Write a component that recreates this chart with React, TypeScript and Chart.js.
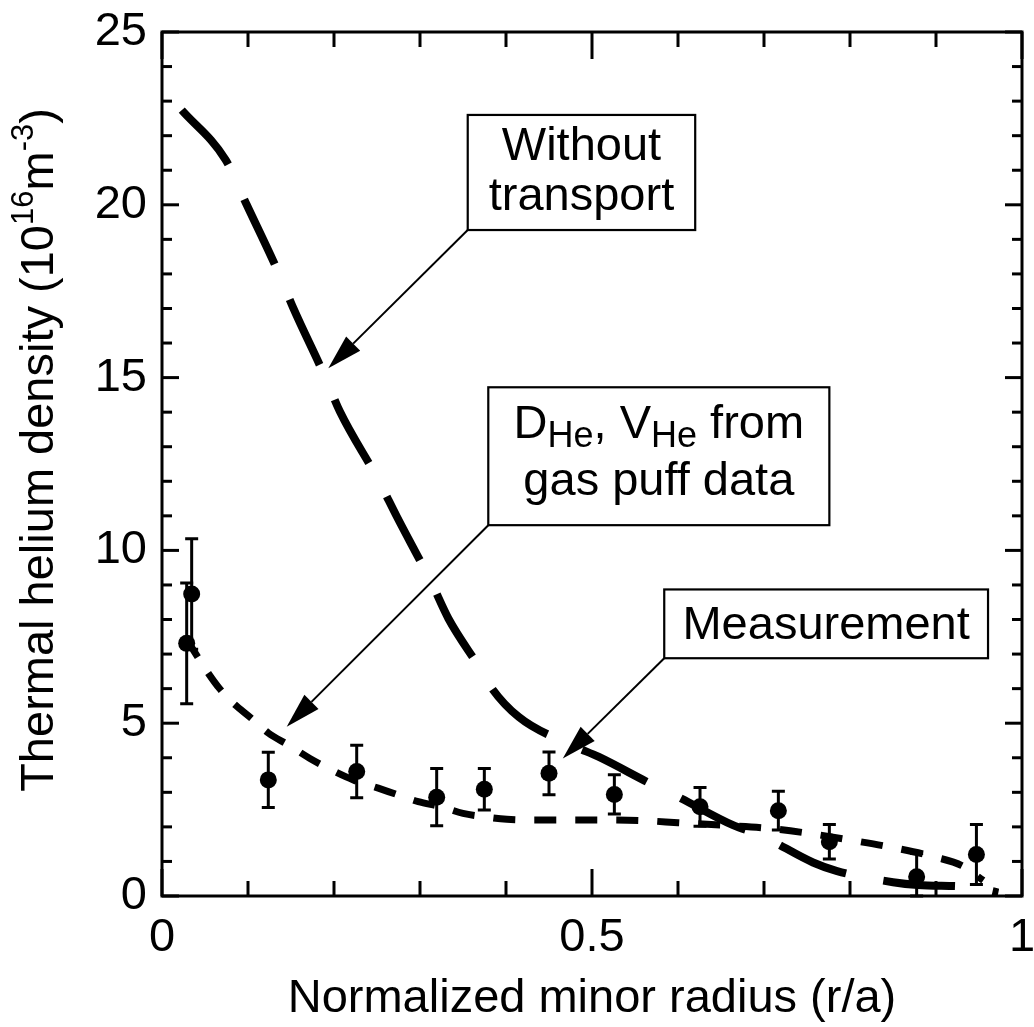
import React, { useEffect, useRef } from 'react';
import { Chart, registerables } from 'chart.js';

Chart.register(...registerables);

// ---------- data ----------
const measX = [0.0287, 0.0345, 0.1236, 0.2264, 0.3194, 0.3748, 0.45, 0.526, 0.6256, 0.7167, 0.776, 0.8775, 0.947];
const measY = [7.31, 8.74, 3.36, 3.6, 2.86, 3.09, 3.55, 2.94, 2.58, 2.47, 1.57, 0.56, 1.2];
const measErr = [1.75, 1.6, 0.8, 0.76, 0.83, 0.6, 0.62, 0.57, 0.56, 0.56, 0.5, 0.67, 0.87];

const noTransportX = [0.023, 0.074, 0.0985, 0.135, 0.1527, 0.1895, 0.207, 0.2515, 0.273, 0.3136, 0.333, 0.3756, 0.381, 0.4148, 0.478, 0.5074, 0.5713, 0.6, 0.664, 0.695, 0.757, 0.785, 0.85, 0.879, 0.943, 0.9725];
const noTransportY = [22.74, 21.3, 20.0, 18.06, 17.01, 15.03, 14.01, 12.04, 10.98, 9.05, 8.03, 6.35, 6.1, 5.18, 4.35, 4.03, 3.21, 2.87, 2.05, 1.77, 0.97, 0.72, 0.4, 0.32, 0.25, 0.1];

const gasPuffX = [0.028, 0.054, 0.067, 0.081, 0.104, 0.124, 0.147, 0.172, 0.197, 0.2225, 0.2515, 0.275, 0.298, 0.325, 0.35, 0.376, 0.401, 0.43, 0.5, 0.56, 0.6, 0.65, 0.7, 0.75, 0.8, 0.85, 0.9, 0.93, 0.955];
const gasPuffY = [7.45, 6.44, 6.0, 5.62, 5.14, 4.71, 4.37, 3.98, 3.65, 3.36, 3.12, 2.92, 2.73, 2.58, 2.39, 2.29, 2.22, 2.2, 2.2, 2.18, 2.12, 2.05, 1.97, 1.82, 1.62, 1.4, 1.12, 0.88, 0.45];

const xTickValues = [0, 0.5, 1];
const xTickLabels = ['0', '0.5', '1'];
const yTickStep = 5;
const xMinorStep = 0.1;
const yMinorStep = 1;

const xTitle = 'Normalized minor radius (r/a)';
const yTitleParts = [
  { t: 'Thermal helium density (10' },
  { t: '16', sup: true },
  { t: 'm' },
  { t: '-3', sup: true },
  { t: ')' },
];

// annotation boxes (data units) with arrow tips (data units)
const annotations = [
  {
    lines: [[{ t: 'Without' }], [{ t: 'transport' }]],
    baselines: [-12, 38],
    x0: 0.3555, x1: 0.62, yTop: 22.6, yBottom: 19.27,
    tipX: 0.1934, tipY: 15.27,
  },
  {
    lines: [
      [{ t: 'D' }, { t: 'He', sub: true }, { t: ', V' }, { t: 'He', sub: true }, { t: ' from' }],
      [{ t: 'gas puff data' }],
    ],
    baselines: [-18, 39],
    x0: 0.3794, x1: 0.776, yTop: 14.72, yBottom: 10.73,
    tipX: 0.145, tipY: 4.9,
  },
  {
    lines: [[{ t: 'Measurement' }]],
    baselines: [15],
    x0: 0.584, x1: 0.9605, yTop: 8.87, yBottom: 6.88,
    tipX: 0.466, tipY: 3.98,
  },
];

const FONT = "'Liberation Sans', Arial, Helvetica, sans-serif";
const FS = 47;

type Part = { t: string; sup?: boolean; sub?: boolean };

function partFont(p: Part) {
  if (p.sup) return `31px ${FONT}`;
  if (p.sub) return `36px ${FONT}`;
  return `${FS}px ${FONT}`;
}

function drawRich(ctx: CanvasRenderingContext2D, parts: Part[], cx: number, baseline: number) {
  let total = 0;
  const widths = parts.map((p) => {
    ctx.font = partFont(p);
    const w = ctx.measureText(p.t).width;
    total += w;
    return w;
  });
  let x = cx - total / 2;
  ctx.textAlign = 'left';
  ctx.textBaseline = 'alphabetic';
  parts.forEach((p, i) => {
    ctx.font = partFont(p);
    const dy = p.sup ? -20 : p.sub ? 9 : 0;
    ctx.fillText(p.t, x, baseline + dy);
    x += widths[i];
  });
}

const framePlugin = {
  id: 'frameTicks',
  afterDraw(chart: any) {
    const { ctx, chartArea: a, scales } = chart;
    const xs = scales.x;
    const ys = scales.y;
    ctx.save();
    ctx.strokeStyle = '#000';
    ctx.lineWidth = 3;
    ctx.lineCap = 'butt';
    const seg = (x1: number, y1: number, x2: number, y2: number) => {
      ctx.beginPath();
      ctx.moveTo(x1, y1);
      ctx.lineTo(x2, y2);
      ctx.stroke();
    };
    const nx = Math.round((xs.max - xs.min) / xMinorStep);
    for (let i = 0; i <= nx; i++) {
      const v = xs.min + i * xMinorStep;
      const px = xs.getPixelForValue(v);
      const major = i % 5 === 0;
      const len = major ? 27 : 15;
      seg(px, a.bottom, px, a.bottom - len);
      seg(px, a.top, px, a.top + len);
    }
    const ny = Math.round((ys.max - ys.min) / yMinorStep);
    for (let i = 0; i <= ny; i++) {
      const v = ys.min + i * yMinorStep;
      const py = ys.getPixelForValue(v);
      const major = i % yTickStep === 0;
      const len = major ? 17 : 10;
      seg(a.left, py, a.left + len, py);
      seg(a.right, py, a.right - len, py);
    }
    ctx.lineWidth = 3;
    ctx.strokeRect(a.left, a.top, a.right - a.left, a.bottom - a.top);
    ctx.restore();
  },
};

const errorBarPlugin = {
  id: 'errorBars',
  afterDatasetsDraw(chart: any) {
    const { ctx, scales } = chart;
    const xs = scales.x;
    const ys = scales.y;
    ctx.save();
    ctx.strokeStyle = '#000';
    ctx.lineWidth = 3;
    measX.forEach((xv, i) => {
      const px = xs.getPixelForValue(xv);
      const top = ys.getPixelForValue(measY[i] + measErr[i]);
      const bot = ys.getPixelForValue(Math.max(0, measY[i] - measErr[i]));
      ctx.beginPath();
      ctx.moveTo(px, top);
      ctx.lineTo(px, bot);
      ctx.moveTo(px - 6.5, top);
      ctx.lineTo(px + 6.5, top);
      ctx.moveTo(px - 6.5, bot);
      ctx.lineTo(px + 6.5, bot);
      ctx.stroke();
    });
    ctx.restore();
  },
};

const annotationPlugin = {
  id: 'annotBoxes',
  afterDraw(chart: any) {
    const { ctx, scales } = chart;
    const xs = scales.x;
    const ys = scales.y;
    ctx.save();
    annotations.forEach((an) => {
      const l = xs.getPixelForValue(an.x0);
      const r = xs.getPixelForValue(an.x1);
      const t = ys.getPixelForValue(an.yTop);
      const b = ys.getPixelForValue(an.yBottom);
      // arrow
      const tx = xs.getPixelForValue(an.tipX);
      const ty = ys.getPixelForValue(an.tipY);
      const sx = l;
      const sy = b;
      const dx = tx - sx;
      const dy = ty - sy;
      const len = Math.hypot(dx, dy);
      const ux = dx / len;
      const uy = dy / len;
      const headLen = 35;
      const headHalf = 10;
      const bx = tx - ux * headLen;
      const by = ty - uy * headLen;
      ctx.strokeStyle = '#000';
      ctx.lineWidth = 2;
      ctx.beginPath();
      ctx.moveTo(sx, sy);
      ctx.lineTo(bx, by);
      ctx.stroke();
      ctx.fillStyle = '#000';
      ctx.beginPath();
      ctx.moveTo(tx, ty);
      ctx.lineTo(bx - uy * headHalf, by + ux * headHalf);
      ctx.lineTo(bx + uy * headHalf, by - ux * headHalf);
      ctx.closePath();
      ctx.fill();
      // box
      ctx.fillStyle = '#fff';
      ctx.fillRect(l, t, r - l, b - t);
      ctx.lineWidth = 2.2;
      ctx.strokeRect(l, t, r - l, b - t);
      // text
      ctx.fillStyle = '#000';
      const cx = (l + r) / 2;
      const cy = (t + b) / 2;
      an.lines.forEach((parts, i) => {
        drawRich(ctx, parts as Part[], cx, cy + an.baselines[i]);
      });
    });
    ctx.restore();
  },
};

const yTitlePlugin = {
  id: 'yTitle',
  afterDraw(chart: any) {
    const { ctx, chartArea: a } = chart;
    ctx.save();
    ctx.fillStyle = '#000';
    ctx.translate(53, (a.top + a.bottom) / 2 - 14);
    ctx.rotate(-Math.PI / 2);
    drawRich(ctx, yTitleParts, 0, 0);
    ctx.restore();
  },
};

export default function App() {
  const ref = useRef<HTMLCanvasElement>(null);
  useEffect(() => {
    if (!ref.current) return;
    const chart = new Chart(ref.current, {
      type: 'scatter',
      data: {
        datasets: [
          {
            label: 'Measurement',
            data: measX.map((x, i) => ({ x, y: measY[i] })),
            pointRadius: 8.5,
            pointBackgroundColor: '#000',
            pointBorderWidth: 0,
            showLine: false,
            order: 0,
          },
          {
            label: 'Without transport',
            data: noTransportX.map((x, i) => ({ x, y: noTransportY[i] })),
            showLine: true,
            pointRadius: 0,
            borderColor: '#000',
            borderWidth: 8,
            borderDash: [72, 38],
            borderCapStyle: 'butt',
            cubicInterpolationMode: 'monotone',
            order: 2,
          },
          {
            label: 'DHe, VHe from gas puff data',
            data: gasPuffX.map((x, i) => ({ x, y: gasPuffY[i] })),
            showLine: true,
            pointRadius: 0,
            borderColor: '#000',
            borderWidth: 7,
            borderDash: [22, 19],
            borderCapStyle: 'butt',
            cubicInterpolationMode: 'monotone',
            order: 1,
          },
        ],
      },
      options: {
        animation: false,
        responsive: false,
        devicePixelRatio: 1,
        events: [],
        layout: { padding: { left: 0, top: 32, right: 12, bottom: 0 } },
        plugins: {
          legend: { display: false },
          tooltip: { enabled: false },
          title: { display: false },
        },
        scales: {
          x: {
            type: 'linear',
            position: 'bottom',
            min: 0,
            max: 1,
            grid: { display: false, drawTicks: false },
            border: { display: false },
            ticks: {
              stepSize: 0.5,
              autoSkip: false,
              maxRotation: 0,
              minRotation: 0,
              padding: 19,
              color: '#000',
              font: { family: FONT, size: FS, lineHeight: 1 },
              callback: (v: any) => {
                const i = xTickValues.findIndex((t) => Math.abs(t - Number(v)) < 1e-9);
                return i >= 0 ? xTickLabels[i] : '';
              },
            },
            title: {
              display: true,
              text: xTitle,
              color: '#000',
              font: { family: FONT, size: FS, lineHeight: 1.2 },
              padding: { top: 0, bottom: 0 },
            },
            afterFit: (s: any) => {
              s.height = 131;
              s.paddingLeft = 0;
              s.paddingRight = 0;
            },
          },
          y: {
            type: 'linear',
            min: 0,
            max: 25,
            grid: { display: false, drawTicks: false },
            border: { display: false },
            ticks: {
              stepSize: yTickStep,
              padding: 15,
              color: '#000',
              font: { family: FONT, size: FS, lineHeight: 1 },
            },
            title: { display: false },
            afterFit: (s: any) => {
              s.width = 162;
              s.paddingTop = 0;
              s.paddingBottom = 0;
            },
          },
        },
      } as any,
      plugins: [errorBarPlugin, framePlugin, annotationPlugin, yTitlePlugin],
    });
    return () => chart.destroy();
  }, []);
  return (
    <div style={{ position: 'fixed', left: 0, top: 0, width: 1034, height: 1027, background: '#fff' }}>
      <canvas ref={ref} width={1034} height={1027} style={{ display: 'block', width: 1034, height: 1027 }} />
    </div>
  );
}
